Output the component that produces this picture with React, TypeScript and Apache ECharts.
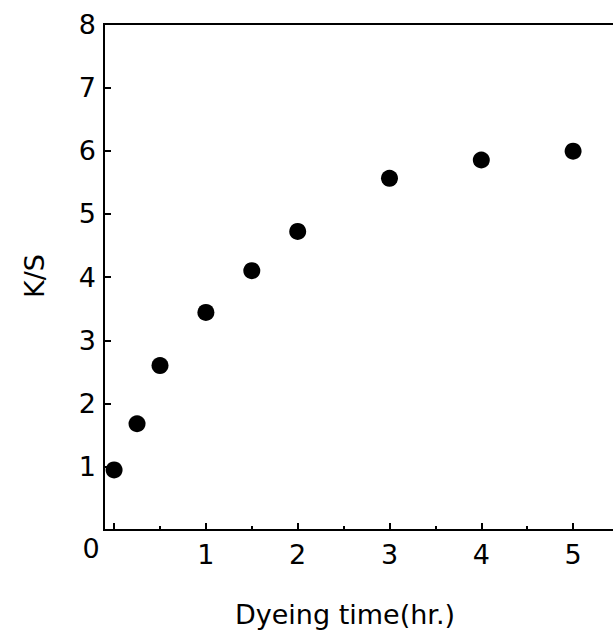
import React, { useEffect, useRef } from "react";
import * as echarts from "echarts";

const timeHr = [0, 0.25, 0.5, 1, 1.5, 2, 3, 4, 5];
const ksValues = [0.95, 1.68, 2.6, 3.44, 4.1, 4.72, 5.56, 5.85, 5.99];
const xMajorTicks = [0, 1, 2, 3, 4, 5];
const xMinorTicks = [0.5, 1.5, 2.5, 3.5, 4.5];
const xTickLabels = [1, 2, 3, 4, 5];
const yTickLabels = [1, 2, 3, 4, 5, 6, 7, 8];
const yTicks = [1, 2, 3, 4, 5, 6, 7];
const xTitle = "Dyeing time(hr.)";
const yTitle = "K/S";
const originLabel = "0";

const FONT = "DejaVu Sans, Arial, sans-serif";

export default function App() {
  const ref = useRef<HTMLDivElement>(null);
  useEffect(() => {
    if (!ref.current) return;
    const chart = echarts.init(ref.current, null, { renderer: "svg" });
    chart.setOption({
      animation: false,
      backgroundColor: "#fff",
      grid: {
        left: 104,
        top: 24,
        bottom: 103,
        right: -6,
        outerBoundsMode: "none",
        containLabel: false,
        show: true,
        borderColor: "#000",
        borderWidth: 2,
        backgroundColor: "transparent",
      },
      xAxis: [
        {
          type: "value",
          min: -0.11,
          max: 5.5,
          axisLine: { show: true, onZero: false, lineStyle: { color: "#000", width: 2 } },
          axisTick: {
            show: true,
            inside: true,
            length: 7,
            lineStyle: { color: "#000", width: 2 },
            customValues: xMajorTicks,
          },
          axisLabel: {
            show: true,
            fontFamily: FONT,
            fontSize: 27,
            color: "#000",
            margin: 11,
            customValues: xTickLabels,
          },
          splitLine: { show: false },
        },
        {
          type: "value",
          min: -0.11,
          max: 5.5,
          position: "bottom",
          axisLine: { show: false, onZero: false },
          axisTick: {
            show: true,
            inside: true,
            length: 4,
            lineStyle: { color: "#000", width: 2 },
            customValues: xMinorTicks,
          },
          axisLabel: { show: false },
          splitLine: { show: false },
        },
      ],
      yAxis: {
        type: "value",
        min: 0,
        max: 8,
        interval: 1,
        axisLine: { show: true, onZero: false, lineStyle: { color: "#000", width: 2 } },
        axisTick: {
          show: true,
          inside: true,
          length: 7,
          lineStyle: { color: "#000", width: 2 },
          customValues: yTicks,
        },
        axisLabel: {
          show: true,
          fontFamily: FONT,
          fontSize: 27,
          color: "#000",
          margin: 8,
          customValues: yTickLabels,
        },
        splitLine: { show: false },
      },
      graphic: [
        {
          type: "text",
          x: 91,
          y: 548,
          style: {
            text: originLabel,
            fontFamily: FONT,
            fontSize: 27,
            fill: "#000",
            align: "center",
            verticalAlign: "middle",
          },
        },
        {
          type: "text",
          x: 345,
          y: 614,
          style: {
            text: xTitle,
            fontFamily: FONT,
            fontSize: 27,
            fill: "#000",
            align: "center",
            verticalAlign: "middle",
          },
        },
        {
          type: "text",
          x: 34,
          y: 276,
          rotation: Math.PI / 2,
          style: {
            text: yTitle,
            fontFamily: FONT,
            fontSize: 27,
            fill: "#000",
            align: "center",
            verticalAlign: "middle",
          },
        },
      ],
      series: [
        {
          type: "scatter",
          data: timeHr.map((t, i) => [t, ksValues[i]]),
          symbol: "circle",
          symbolSize: 17,
          itemStyle: { color: "#000", opacity: 1 },
        },
      ],
    });
    return () => chart.dispose();
  }, []);
  return (
    <div
      ref={ref}
      style={{ position: "fixed", left: 0, top: 0, width: 613, height: 633 }}
    />
  );
}
